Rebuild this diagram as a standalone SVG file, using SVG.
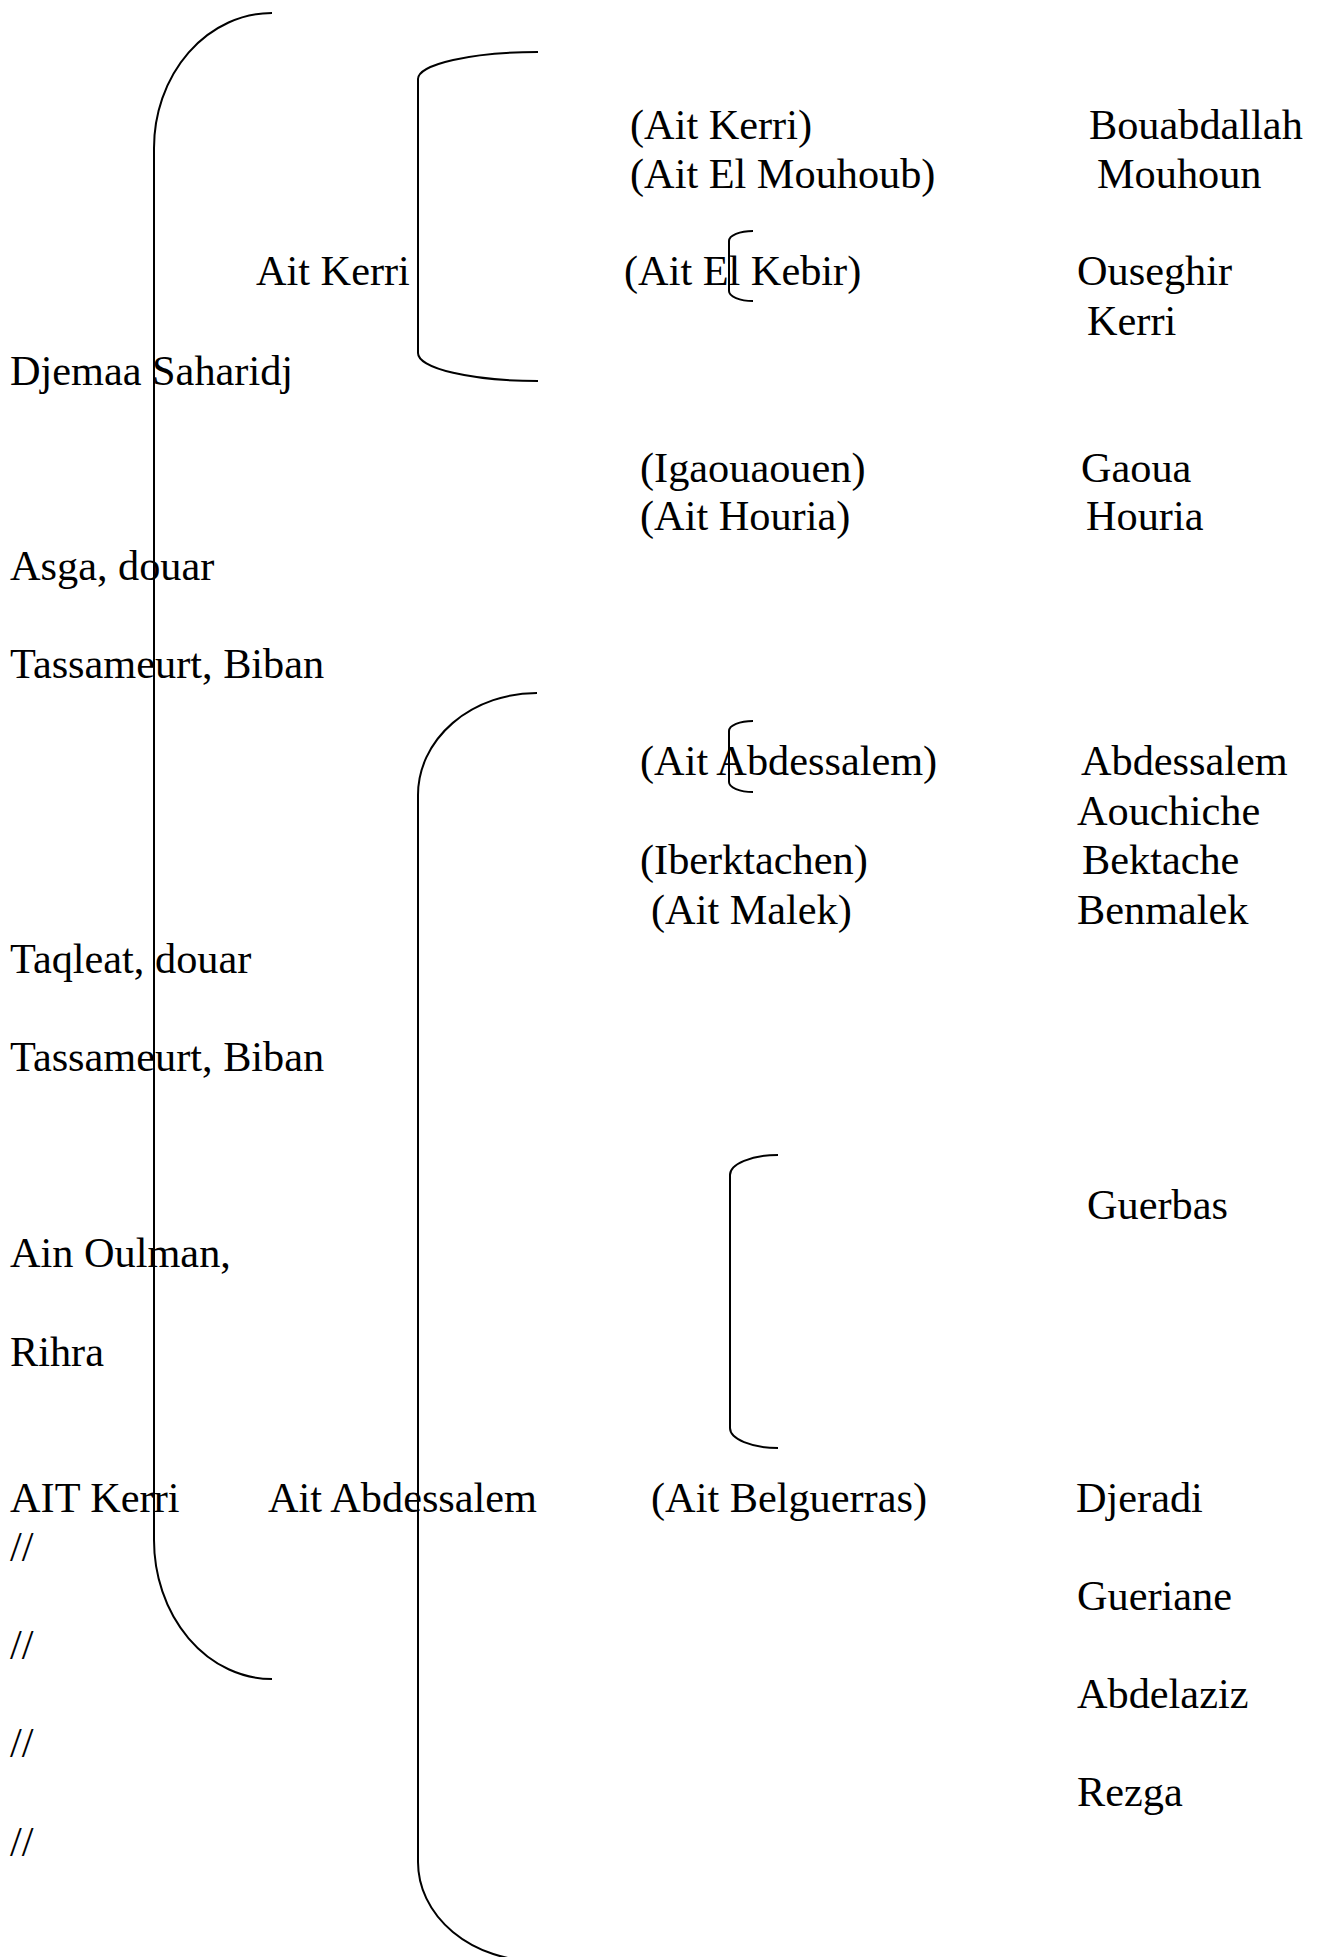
<svg xmlns="http://www.w3.org/2000/svg" width="1317" height="1957" viewBox="0 0 1317 1957">
<style>
text { font-family: "Liberation Serif", "Times New Roman", serif; font-size: 42.3px; fill: #000; }
.br { fill: none; stroke: #000; stroke-width: 2; }
</style>
<rect width="1317" height="1957" fill="#fff"/>
<g id="connectors">
  <path class="br" d="M272,13 A118,135 0 0 0 154,148 L154,1540 A118,139 0 0 0 272,1679"/>
  <path class="br" d="M538,52 A120,27 0 0 0 418,79 L418,353 A120,28 0 0 0 538,381"/>
  <path class="br" d="M537,693 A119,102 0 0 0 418,795 L418,1862 A119,99 0 0 0 537,1961"/>
  <path class="br" d="M753,231 A24,10 0 0 0 729,241 L729,291 A24,10 0 0 0 753,301"/>
  <path class="br" d="M753,721 A24,10 0 0 0 729,731 L729,782 A24,10 0 0 0 753,792"/>
  <path class="br" d="M778,1155 A48,20 0 0 0 730,1175 L730,1428 A48,20 0 0 0 778,1448"/>
</g>
<g id="n-djemaa"><text x="10" y="385">Djemaa Saharidj</text></g>
<g id="n-asga"><text x="10" y="580">Asga, douar</text></g>
<g id="n-tassameurt1"><text x="10" y="678">Tassameurt, Biban</text></g>
<g id="n-taqleat"><text x="10" y="973">Taqleat, douar</text></g>
<g id="n-tassameurt2"><text x="10" y="1071">Tassameurt, Biban</text></g>
<g id="n-ainoulman"><text x="10" y="1267">Ain Oulman,</text></g>
<g id="n-rihra"><text x="10" y="1366">Rihra</text></g>
<g id="n-aitkerri-root"><text x="10" y="1512">AIT Kerri</text></g>
<g id="n-ditto1"><text x="10" y="1561">//</text></g>
<g id="n-ditto2"><text x="10" y="1659">//</text></g>
<g id="n-ditto3"><text x="10" y="1757">//</text></g>
<g id="n-ditto4"><text x="10" y="1856">//</text></g>
<g id="n-aitkerri"><text x="256" y="285">Ait Kerri</text></g>
<g id="n-aitabdessalem"><text x="268" y="1512">Ait Abdessalem</text></g>
<g id="n-p-aitkerri"><text x="630" y="139">(Ait Kerri)</text></g>
<g id="n-p-mouhoub"><text x="630" y="188">(Ait El Mouhoub)</text></g>
<g id="n-p-kebir"><text x="624" y="285">(Ait El Kebir)</text></g>
<g id="n-p-igaouaouen"><text x="640" y="482">(Igaouaouen)</text></g>
<g id="n-p-houria"><text x="640" y="530">(Ait Houria)</text></g>
<g id="n-p-abdessalem"><text x="640" y="775">(Ait Abdessalem)</text></g>
<g id="n-p-iberktachen"><text x="640" y="874">(Iberktachen)</text></g>
<g id="n-p-malek"><text x="651" y="924">(Ait Malek)</text></g>
<g id="n-p-belguerras"><text x="651" y="1512">(Ait Belguerras)</text></g>
<g id="n-bouabdallah"><text x="1089" y="139">Bouabdallah</text></g>
<g id="n-mouhoun"><text x="1097" y="188">Mouhoun</text></g>
<g id="n-ouseghir"><text x="1077" y="285">Ouseghir</text></g>
<g id="n-kerri"><text x="1087" y="335">Kerri</text></g>
<g id="n-gaoua"><text x="1081" y="482">Gaoua</text></g>
<g id="n-houria"><text x="1086" y="530">Houria</text></g>
<g id="n-abdessalem"><text x="1081" y="775">Abdessalem</text></g>
<g id="n-aouchiche"><text x="1077" y="825">Aouchiche</text></g>
<g id="n-bektache"><text x="1082" y="874">Bektache</text></g>
<g id="n-benmalek"><text x="1077" y="924">Benmalek</text></g>
<g id="n-guerbas"><text x="1087" y="1219">Guerbas</text></g>
<g id="n-djeradi"><text x="1076" y="1512">Djeradi</text></g>
<g id="n-gueriane"><text x="1077" y="1610">Gueriane</text></g>
<g id="n-abdelaziz"><text x="1077" y="1708">Abdelaziz</text></g>
<g id="n-rezga"><text x="1077" y="1806">Rezga</text></g>
</svg>
